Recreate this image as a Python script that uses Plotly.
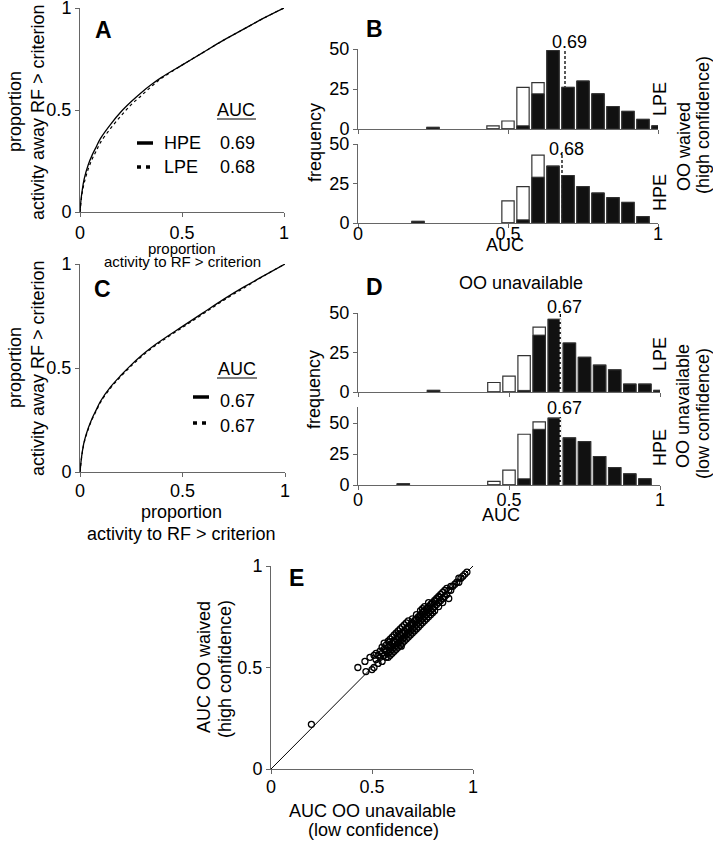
import plotly.graph_objects as go

W, H = 713, 845
FONT = "Liberation Sans, Arial, sans-serif"

# ---------------- data ----------------
roc_x = [0, 0.005, 0.01, 0.02, 0.04, 0.06, 0.08, 0.1, 0.15, 0.2, 0.25, 0.3, 0.35, 0.4, 0.5, 0.6, 0.7, 0.8, 0.9, 1.0]
rocA_hpe = [0, 0.06, 0.10, 0.16, 0.23, 0.28, 0.32, 0.36, 0.43, 0.49, 0.54, 0.585, 0.625, 0.66, 0.72, 0.78, 0.84, 0.895, 0.95, 1.0]
rocA_lpe = [0, 0.05, 0.09, 0.14, 0.21, 0.26, 0.30, 0.34, 0.41, 0.47, 0.525, 0.57, 0.615, 0.655, 0.72, 0.78, 0.84, 0.895, 0.95, 1.0]
rocC_hpe = [0, 0.05, 0.09, 0.145, 0.21, 0.26, 0.30, 0.34, 0.41, 0.465, 0.515, 0.56, 0.60, 0.635, 0.70, 0.765, 0.83, 0.89, 0.945, 1.0]
rocC_lpe = [0, 0.045, 0.085, 0.14, 0.205, 0.255, 0.295, 0.335, 0.405, 0.46, 0.51, 0.555, 0.595, 0.63, 0.695, 0.76, 0.825, 0.885, 0.945, 1.0]
aucA = ["0.69", "0.68"]
aucC = ["0.67", "0.67"]

# histograms: bin centres, total counts, significant counts
b_lpe_bins = [0.25, 0.45, 0.5, 0.55, 0.6, 0.65, 0.7, 0.75, 0.8, 0.85, 0.9, 0.95, 1.0]
b_lpe_total = [1, 2, 5, 26, 29, 49, 26, 30, 22, 14, 11, 6, 2]
b_lpe_sig = [1, 0, 0, 2, 22, 49, 26, 30, 22, 14, 11, 6, 2]
b_hpe_bins = [0.2, 0.5, 0.55, 0.6, 0.65, 0.7, 0.75, 0.8, 0.85, 0.9, 0.95]
b_hpe_total = [1, 14, 23, 43, 36, 30, 23, 19, 16, 13, 4]
b_hpe_sig = [1, 0, 2, 29, 36, 30, 23, 19, 16, 13, 4]
d_lpe_bins = [0.25, 0.45, 0.5, 0.55, 0.6, 0.65, 0.7, 0.75, 0.8, 0.85, 0.9, 0.95, 1.0]
d_lpe_total = [1, 6, 10, 23, 41, 46, 31, 22, 17, 14, 5, 5, 1]
d_lpe_sig = [1, 0, 0, 1, 36, 46, 31, 22, 17, 14, 5, 5, 1]
d_hpe_bins = [0.15, 0.45, 0.5, 0.55, 0.6, 0.65, 0.7, 0.75, 0.8, 0.85, 0.9, 0.95]
d_hpe_total = [1, 3, 12, 41, 51, 54, 38, 35, 23, 14, 9, 5]
d_hpe_sig = [1, 0, 0, 5, 45, 54, 38, 35, 23, 14, 9, 5]

medians = [0.69, 0.68, 0.67, 0.67]
median_tops = [50, 45, 50, 56]
hist_ymax = [50, 50, 50, 63]

# scatter E
e_x = [0.20, 0.43, 0.47, 0.465, 0.49, 0.50, 0.51, 0.51, 0.52, 0.52, 0.53, 0.53, 0.54, 0.54, 0.55, 0.55,
       0.55, 0.56, 0.56, 0.56, 0.57, 0.57, 0.57, 0.58, 0.58, 0.58, 0.58, 0.59, 0.59, 0.59, 0.59, 0.60,
       0.60, 0.60, 0.60, 0.61, 0.61, 0.61, 0.61, 0.62, 0.62, 0.62, 0.62, 0.63, 0.63, 0.63, 0.63, 0.64,
       0.64, 0.64, 0.64, 0.65, 0.65, 0.65, 0.65, 0.66, 0.66, 0.66, 0.66, 0.67, 0.67, 0.67, 0.67, 0.68,
       0.68, 0.68, 0.68, 0.69, 0.69, 0.69, 0.70, 0.70, 0.70, 0.70, 0.71, 0.71, 0.71, 0.72, 0.72, 0.72,
       0.72, 0.73, 0.73, 0.73, 0.74, 0.74, 0.74, 0.74, 0.75, 0.75, 0.75, 0.75, 0.76, 0.76, 0.76, 0.76,
       0.77, 0.77, 0.77, 0.78, 0.78, 0.78, 0.78, 0.79, 0.79, 0.79, 0.80, 0.80, 0.80, 0.81, 0.81, 0.81,
       0.82, 0.82, 0.83, 0.83, 0.83, 0.84, 0.84, 0.85, 0.85, 0.85, 0.86, 0.86, 0.87, 0.87, 0.88, 0.88,
       0.89, 0.89, 0.90, 0.91, 0.92, 0.93, 0.93, 0.94, 0.95, 0.96, 0.97, 0.605, 0.625, 0.645, 0.585, 0.565,
       0.615, 0.635, 0.655, 0.675, 0.695, 0.715, 0.735, 0.755, 0.775, 0.795, 0.815, 0.835]
e_y = [0.22, 0.50, 0.48, 0.53, 0.55, 0.49, 0.50, 0.56, 0.54, 0.57, 0.52, 0.56, 0.58, 0.55, 0.53, 0.57,
       0.60, 0.56, 0.59, 0.62, 0.55, 0.58, 0.61, 0.57, 0.60, 0.63, 0.55, 0.58, 0.61, 0.64, 0.56, 0.59,
       0.62, 0.65, 0.57, 0.60, 0.63, 0.66, 0.58, 0.61, 0.64, 0.67, 0.59, 0.62, 0.65, 0.60, 0.68, 0.63,
       0.66, 0.61, 0.69, 0.64, 0.67, 0.62, 0.70, 0.65, 0.68, 0.63, 0.71, 0.66, 0.69, 0.64, 0.72, 0.67,
       0.70, 0.65, 0.73, 0.68, 0.71, 0.66, 0.69, 0.72, 0.67, 0.74, 0.70, 0.73, 0.68, 0.71, 0.74, 0.69,
       0.76, 0.72, 0.75, 0.70, 0.73, 0.76, 0.71, 0.78, 0.74, 0.77, 0.72, 0.79, 0.75, 0.78, 0.73, 0.80,
       0.76, 0.79, 0.74, 0.77, 0.80, 0.75, 0.82, 0.78, 0.81, 0.76, 0.79, 0.82, 0.77, 0.80, 0.83, 0.78,
       0.81, 0.84, 0.82, 0.85, 0.80, 0.83, 0.86, 0.84, 0.87, 0.82, 0.85, 0.88, 0.86, 0.89, 0.84, 0.88,
       0.88, 0.90, 0.90, 0.91, 0.92, 0.92, 0.94, 0.94, 0.95, 0.96, 0.97, 0.63, 0.655, 0.605, 0.625, 0.585,
       0.625, 0.665, 0.645, 0.695, 0.705, 0.735, 0.745, 0.775, 0.785, 0.815, 0.825, 0.845]

# ---------------- helpers ----------------
def px_x(x):
    return x / W

def px_y(y):
    return 1 - y / H

def dom_x(a, b):
    return [px_x(a), px_x(b)]

def dom_y(top, bottom):
    return [px_y(bottom), px_y(top)]

fig = go.Figure()

# ROC curves
fig.add_trace(go.Scatter(x=roc_x, y=rocA_hpe, mode="lines", line=dict(color="black", width=1.3, shape="spline"), xaxis="x", yaxis="y"))
fig.add_trace(go.Scatter(x=roc_x, y=rocA_lpe, mode="lines", line=dict(color="black", width=1.2, dash="dot", shape="spline"), xaxis="x", yaxis="y"))
fig.add_trace(go.Scatter(x=roc_x, y=rocC_hpe, mode="lines", line=dict(color="black", width=1.3, shape="spline"), xaxis="x4", yaxis="y4"))
fig.add_trace(go.Scatter(x=roc_x, y=rocC_lpe, mode="lines", line=dict(color="black", width=1.2, dash="dot", shape="spline"), xaxis="x4", yaxis="y4"))

hists = [
    (b_lpe_bins, b_lpe_total, b_lpe_sig, "x2", "y2"),
    (b_hpe_bins, b_hpe_total, b_hpe_sig, "x3", "y3"),
    (d_lpe_bins, d_lpe_total, d_lpe_sig, "x5", "y5"),
    (d_hpe_bins, d_hpe_total, d_hpe_sig, "x6", "y6"),
]
for bins, tot, sig, xa, ya in hists:
    fig.add_trace(go.Bar(x=bins, y=tot, width=0.041, marker=dict(color="white", line=dict(color="#333", width=1.2)), xaxis=xa, yaxis=ya))
    fig.add_trace(go.Bar(x=bins, y=sig, width=0.041, marker=dict(color="#111", line=dict(color="#333", width=1)), xaxis=xa, yaxis=ya))

# scatter E
fig.add_trace(go.Scatter(x=[0, 1], y=[0, 1], mode="lines", line=dict(color="black", width=1), xaxis="x7", yaxis="y7"))
fig.add_trace(go.Scatter(x=e_x, y=e_y, mode="markers", marker=dict(symbol="circle-open", size=6, color="black", line=dict(width=1.3)), xaxis="x7", yaxis="y7"))

# ---------------- axes ----------------
axbase = dict(showline=True, linecolor="#666", linewidth=1, ticks="outside", ticklen=4, tickcolor="#666",
              showgrid=False, zeroline=False, automargin=False, ticklabeloverflow="allow",
              tickfont=dict(family=FONT, size=18, color="black"), fixedrange=True)

layout = dict(width=W, height=H, margin=dict(l=0, r=0, t=0, b=0, pad=0, autoexpand=False),
              paper_bgcolor="white", plot_bgcolor="white",
              showlegend=False, barmode="overlay", font=dict(family=FONT, size=18, color="black"))

unit_ticks = dict(tickvals=[0, 0.5, 1], ticktext=["0", "0.5", "1"], range=[0, 1])
layout["xaxis"] = dict(axbase, domain=dom_x(80, 284), anchor="y", **unit_ticks)
layout["yaxis"] = dict(axbase, domain=dom_y(8, 212), anchor="x", **unit_ticks)
layout["xaxis4"] = dict(axbase, domain=dom_x(80, 285), anchor="y4", ticklabelstandoff=-2, **unit_ticks)
layout["yaxis4"] = dict(axbase, domain=dom_y(264, 472), anchor="x4", **unit_ticks)
layout["xaxis7"] = dict(axbase, domain=dom_x(271, 473), anchor="y7", ticklabelstandoff=-3, **unit_ticks)
layout["yaxis7"] = dict(axbase, domain=dom_y(566, 769), anchor="x7", **unit_ticks)

hist_dom = [("2", (358, 658), (49, 129), False, 0), ("3", (358, 658), (144, 223), True, -10),
            ("5", (358, 660), (313, 392), False, 0), ("6", (358, 660), (407, 485), True, -6)]
for i, (k, dx, dy, show, so) in enumerate(hist_dom):
    layout["xaxis" + k] = dict(axbase, domain=dom_x(*dx), anchor="y" + k, range=[0, 1],
                               tickvals=[0, 0.5, 1], ticktext=["0", "0.5", "1"], showticklabels=show,
                               ticklabelstandoff=so)
    layout["yaxis" + k] = dict(axbase, domain=dom_y(*dy), anchor="x" + k, range=[0, hist_ymax[i]],
                               tickvals=[0, 25, 50], ticktext=["0", "25", "50"])

shapes = []
annotations = []

def ann(text, x, y, size=18, angle=0, bold=False, xanchor="center", yanchor="middle"):
    if bold:
        text = "<b>" + text + "</b>"
    annotations.append(dict(text=text, x=px_x(x), y=px_y(y), xref="paper", yref="paper", showarrow=False,
                            textangle=angle, xanchor=xanchor, yanchor=yanchor,
                            font=dict(family=FONT, size=size, color="black")))

# median dashed lines
hx = [("x2", "y2"), ("x3", "y3"), ("x5", "y5"), ("x6", "y6")]
hdata = [(b_lpe_bins, b_lpe_total), (b_hpe_bins, b_hpe_total), (d_lpe_bins, d_lpe_total), (d_hpe_bins, d_hpe_total)]
label_y = [42, 149, 307, 408]
for i, ((xa, ya), m, top) in enumerate(zip(hx, medians, median_tops)):
    shapes.append(dict(type="line", xref=xa, yref=ya, x0=m, x1=m, y0=0, y1=top, layer="below",
                       line=dict(color="black", width=1.3, dash="3px,2px")))
    if i >= 2:
        bins, tot = hdata[i]
        j = min(range(len(bins)), key=lambda k: abs(bins[k] - m))
        shapes.append(dict(type="line", xref=xa, yref=ya, x0=m, x1=m, y0=0, y1=tot[j], layer="above",
                           line=dict(color="white", width=1.3, dash="3px,2px")))
    annotations.append(dict(text=f"{m:.2f}", x=m, y=px_y(label_y[i]), xref=xa, yref="paper", xshift=4,
                            showarrow=False, xanchor="center", yanchor="middle",
                            font=dict(family=FONT, size=18, color="black")))

# panel letters
ann("A", 103, 30, size=23, bold=True)
ann("B", 375, 29, size=23, bold=True)
ann("C", 102, 289, size=23, bold=True)
ann("D", 374, 287, size=23, bold=True)
ann("E", 296, 578, size=23, bold=True)

# A titles
ann("proportion", 15, 112, angle=-90)
ann("activity away RF > criterion", 38, 112, angle=-90)
ann("proportion", 182, 248, size=15)
ann("activity to RF > criterion", 182, 262, size=15)
# C titles
ann("proportion", 15, 368, angle=-90)
ann("activity away RF > criterion", 38, 368, angle=-90)
ann("proportion", 181, 512)
ann("activity to RF > criterion", 181, 534)

# A legend
ann("AUC", 236, 110)
shapes.append(dict(type="line", xref="paper", yref="paper", x0=px_x(217), x1=px_x(256), y0=px_y(119), y1=px_y(119), line=dict(color="black", width=1)))
ann("HPE", 162, 143, xanchor="left")
ann(aucA[0], 218, 143, xanchor="left")
ann("LPE", 162, 167, xanchor="left")
ann(aucA[1], 218, 167, xanchor="left")
shapes.append(dict(type="line", xref="paper", yref="paper", x0=px_x(137), x1=px_x(153), y0=px_y(143), y1=px_y(143), line=dict(color="black", width=3.5)))
shapes.append(dict(type="line", xref="paper", yref="paper", x0=px_x(137), x1=px_x(153), y0=px_y(167), y1=px_y(167), line=dict(color="black", width=3.5, dash="4px,5px")))
# C legend
ann("AUC", 237, 369)
shapes.append(dict(type="line", xref="paper", yref="paper", x0=px_x(217), x1=px_x(257), y0=px_y(378), y1=px_y(378), line=dict(color="black", width=1)))
ann(aucC[0], 218, 401, xanchor="left")
ann(aucC[1], 218, 426, xanchor="left")
shapes.append(dict(type="line", xref="paper", yref="paper", x0=px_x(193), x1=px_x(209), y0=px_y(397), y1=px_y(397), line=dict(color="black", width=3.5)))
shapes.append(dict(type="line", xref="paper", yref="paper", x0=px_x(193), x1=px_x(209), y0=px_y(423), y1=px_y(423), line=dict(color="black", width=3.5, dash="4px,5px")))

# B labels
ann("frequency", 315, 143, angle=-90)
ann("AUC", 505, 245)
ann("LPE", 660, 99, angle=-90)
ann("HPE", 660, 193, angle=-90)
ann("OO waived", 684, 147, angle=-90)
ann("(high confidence)", 703, 125, angle=-90)
# D labels
ann("OO unavailable", 521, 283)
ann("frequency", 314, 390, angle=-90)
ann("AUC", 501, 515)
ann("LPE", 660, 354, angle=-90)
ann("HPE", 660, 448, angle=-90)
ann("OO unavailable", 683, 406, angle=-90)
ann("(low confidence)", 703, 414, angle=-90)
# E labels
ann("AUC OO waived", 204, 667, angle=-90)
ann("(high confidence)", 225, 669, angle=-90)
ann("AUC OO unavailable", 372, 811)
ann("(low confidence)", 373, 830)

layout["shapes"] = shapes
layout["annotations"] = annotations
fig.update_layout(**layout)
fig.write_html("out.html", config={"displayModeBar": False, "staticPlot": True},
               post_script="document.body.style.margin='0';document.body.style.overflow='hidden';")
